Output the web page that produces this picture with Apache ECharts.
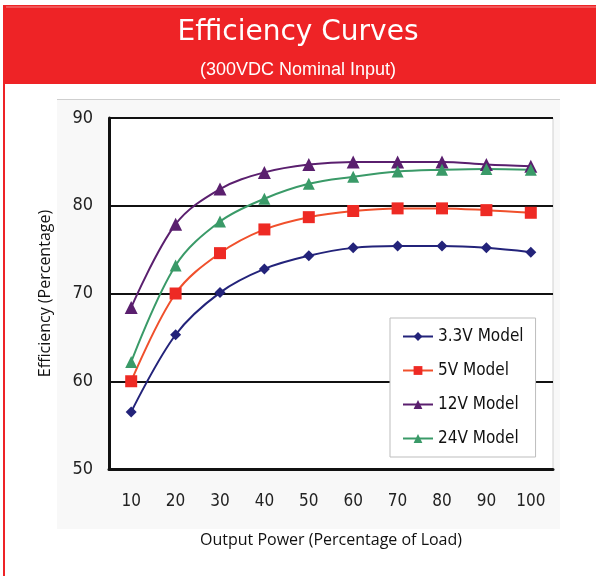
<!DOCTYPE html>
<html><head><meta charset="utf-8">
<script src="https://cdn.jsdelivr.net/npm/echarts@6/dist/echarts.min.js"></script>
<style>html,body{margin:0;padding:0;background:#fff}#c{width:596px;height:576px}</style>
</head><body><div id="c"></div>
<script>
const categories = ['10','20','30','40','50','60','70','80','90','100'];
const v33 = [56.5, 65.3, 70.1, 72.8, 74.3, 75.2, 75.4, 75.4, 75.2, 74.7];
const v5  = [60.0, 70.0, 74.6, 77.3, 78.7, 79.4, 79.7, 79.7, 79.5, 79.2];
const v12 = [68.4, 77.9, 81.9, 83.8, 84.7, 85.0, 85.0, 85.0, 84.7, 84.5];
const v24 = [62.2, 73.2, 78.2, 80.8, 82.5, 83.3, 83.9, 84.1, 84.2, 84.1];
const names = ['3.3V Model','5V Model','12V Model','24V Model'];

const chart = echarts.init(document.getElementById('c'));
const narrow = '"DejaVu Sans Condensed", "Liberation Sans Narrow", sans-serif';
function s(name, data, color, lineColor, symbol, size) {
  return {
    name, type: 'line', data, smooth: 0.35, symbol, symbolSize: size,
    lineStyle: {color: lineColor, width: 2}, itemStyle: {color: color},
    z: 3
  };
}
chart.setOption({
  animation: false,
  graphic: [
    {type:'rect', shape:{x:3,y:5,width:593,height:79}, style:{fill:'#ee2326'}, z:-10},
    {type:'rect', shape:{x:3,y:84,width:2,height:492}, style:{fill:'#ee2326'}, z:-10},
    {type:'line', shape:{x1:6,y1:7,x2:596,y2:7}, style:{stroke:'#f48a8a',lineWidth:1}, z:-9},
    {type:'rect', shape:{x:57,y:99,width:503,height:430}, style:{fill:'#f8f8f8'}, z:-10},
    {type:'line', shape:{x1:57,y1:99.5,x2:560,y2:99.5}, style:{stroke:'#cfcfcf',lineWidth:1}, z:-9},
    {type:'text', left:'center', top:19, style:{text:'Efficiency Curves', fill:'#fff', font:'28px "DejaVu Sans ExtraLight", "DejaVu Sans", sans-serif'}},
    {type:'text', left:'center', top:61, style:{text:'(300VDC Nominal Input)', fill:'#fff', font:'18px "Liberation Sans", Arial, sans-serif'}}
  ],
  grid: {left:109, right:43, top:118, bottom:107, show:true, backgroundColor:'#fff', borderColor:'#d0d0d0', borderWidth:1},
  legend: {
    orient:'vertical', left:390, top:318, width:138, data: names,
    backgroundColor:'#fff', borderColor:'#bdbdbd', borderWidth:1,
    padding:[10,12,10,12], itemGap:17, itemWidth:30, itemHeight:11,
    textStyle:{fontFamily:narrow, fontSize:17, color:'#111'}
  },
  xAxis: {
    type:'category', data: categories, boundaryGap:true,
    name:'Output Power (Percentage of Load)', nameLocation:'middle', nameGap:63,
    nameTextStyle:{fontFamily:'"Open Sans", sans-serif', fontSize:16, color:'#111'},
    axisLine:{lineStyle:{color:'#111', width:3}}, axisTick:{show:false},
    axisLabel:{fontFamily:narrow, fontSize:17, color:'#222', margin:24}
  },
  yAxis: {
    type:'value', min:50, max:90, interval:10,
    name:'Efficiency (Percentage)', nameLocation:'middle', nameGap:56, nameRotate:90,
    nameTextStyle:{fontFamily:'"Open Sans", sans-serif', fontSize:16, color:'#111'},
    axisLine:{show:true, lineStyle:{color:'#111', width:3}}, axisTick:{show:false},
    axisLabel:{fontFamily:narrow, fontSize:18, color:'#222', margin:16},
    splitLine:{lineStyle:{color:'#111', width:2}}
  },
  series: [
    s(names[0], v33, '#23237a', '#23237a', 'diamond', 11),
    s(names[1], v5, '#ee2a24', '#f0502c', 'rect', 12),
    s(names[2], v12, '#5a1f6e', '#5a1f6e', 'triangle', 13),
    s(names[3], v24, '#3a9a68', '#3a9a68', 'triangle', 12)
  ]
});
</script></body></html>
